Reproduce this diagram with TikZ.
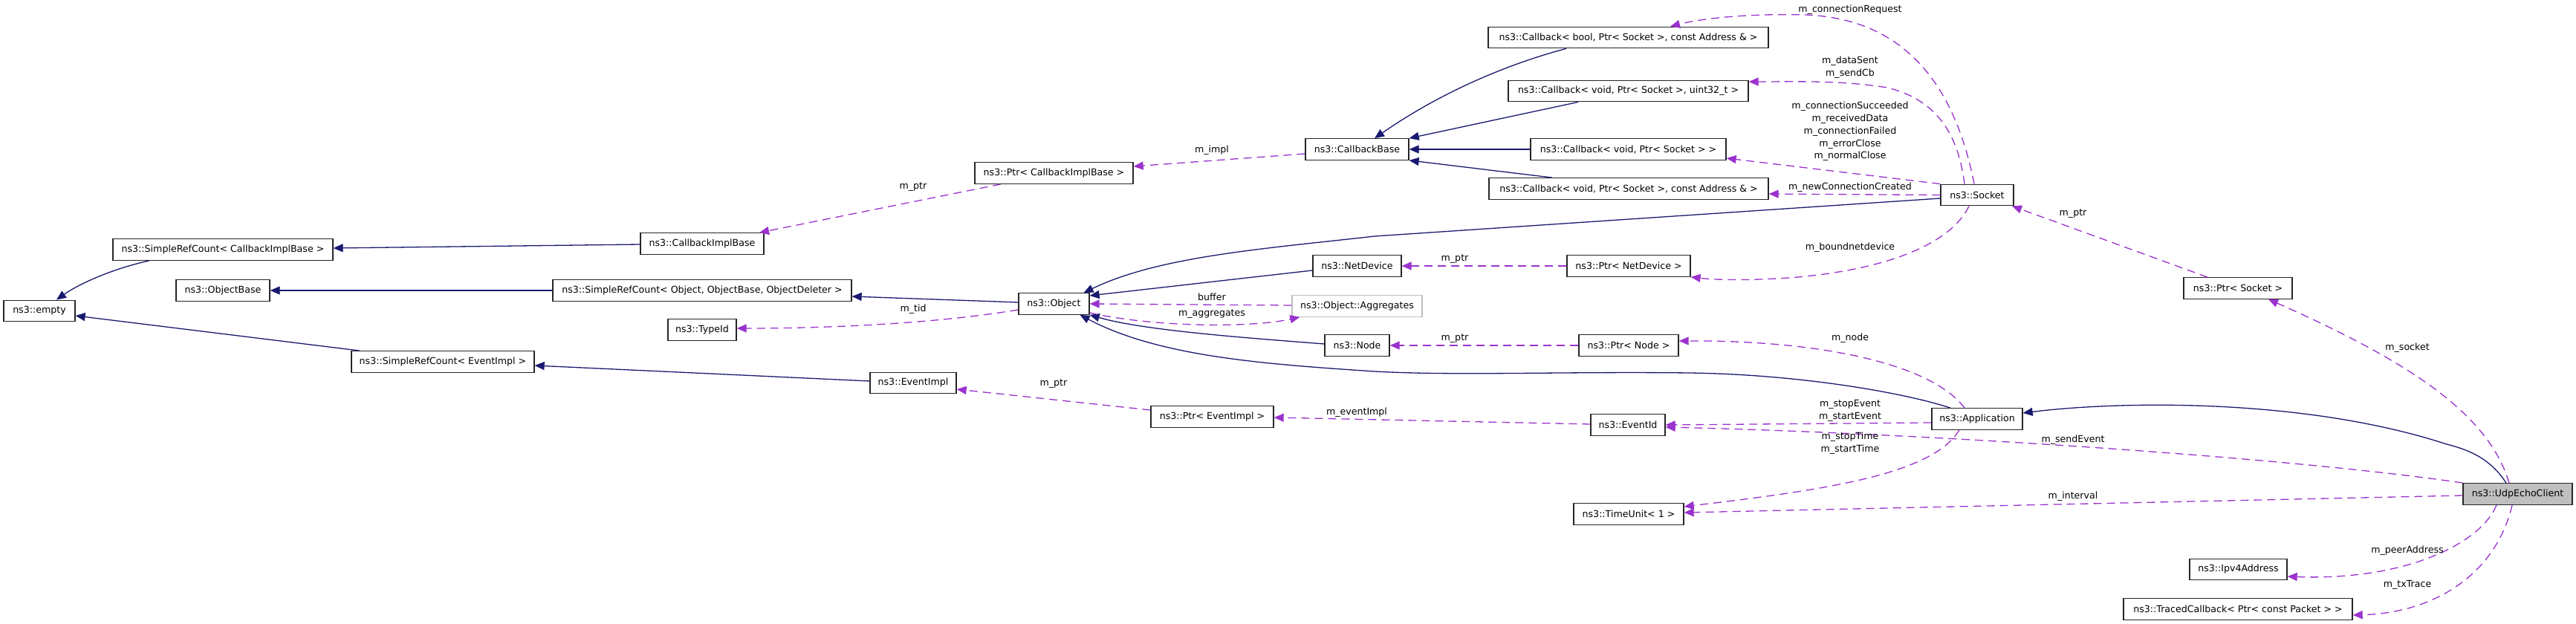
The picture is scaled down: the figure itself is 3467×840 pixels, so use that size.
\documentclass[tikz,border=0pt]{standalone}
\usepackage{fontspec}
\setmainfont{DejaVu Sans}
\usetikzlibrary{arrows.meta}
\definecolor{midblue}{HTML}{191970}
\definecolor{orchid}{HTML}{9A32CD}
\definecolor{grayfill}{HTML}{BFBFBF}
\newcommand{\lblfont}{\fontsize{12.6}{16.8}\selectfont}
\begin{document}
\begin{tikzpicture}[x=1pt,y=-1pt,
  box/.style={draw=black!85, line width=1.3pt, fill=white, minimum height=28.5pt, inner sep=0pt, font=\lblfont},
  ghost/.style={box, draw=grayfill},
  focus/.style={box, fill=grayfill},
  lab/.style={font=\lblfont, inner sep=0pt, align=center},
  inh/.style={draw=midblue, line width=1.3pt, -{Triangle[length=13pt,width=11pt]}},
  use/.style={draw=orchid, line width=1.3pt, dash pattern=on 11pt off 7pt, -{Triangle[length=13pt,width=11pt]}}]
\useasboundingbox (0,0) rectangle (3467,840);
% nodes
\node[box, minimum width=96pt] (empty) at (53,418.5) {ns3::empty};
\node[box, minimum width=296pt] (srcCB) at (300,336) {ns3::SimpleRefCount< CallbackImplBase >};
\node[box, minimum width=126pt] (objbase) at (300,391) {ns3::ObjectBase};
\node[box, minimum width=246pt] (srcEv) at (596,487) {ns3::SimpleRefCount< EventImpl >};
\node[box, minimum width=166pt] (cbImpl) at (945,328) {ns3::CallbackImplBase};
\node[box, minimum width=402pt] (srcObj) at (945,391) {ns3::SimpleRefCount< Object, ObjectBase, ObjectDeleter >};
\node[box, minimum width=92pt] (typeid) at (945,444) {ns3::TypeId};
\node[box, minimum width=213pt] (ptrCB) at (1418.5,233) {ns3::Ptr< CallbackImplBase >};
\node[box, minimum width=95pt] (object) at (1418.5,409) {ns3::Object};
\node[box, minimum width=116pt] (eventimpl) at (1229,515.5) {ns3::EventImpl};
\node[box, minimum width=165pt] (ptrEv) at (1631.5,561) {ns3::Ptr< EventImpl >};
\node[box, minimum width=139pt] (cbBase) at (1826.5,201) {ns3::CallbackBase};
\node[box, minimum width=119pt] (netdev) at (1826.5,358) {ns3::NetDevice};
\node[ghost, minimum width=175pt] (aggr) at (1826.5,412) {ns3::Object::Aggregates};
\node[box, minimum width=87pt] (node) at (1826.5,465) {ns3::Node};
\node[box, minimum width=377pt] (cbBool) at (2191.5,50.5) {ns3::Callback< bool, Ptr< Socket >, const Address \& >};
\node[box, minimum width=323pt] (cbU32) at (2191.5,122.5) {ns3::Callback< void, Ptr< Socket >, uint32\_t >};
\node[box, minimum width=263pt] (cbVoid) at (2191.5,201) {ns3::Callback< void, Ptr< Socket > >};
\node[box, minimum width=376pt] (cbAddr) at (2192,254) {ns3::Callback< void, Ptr< Socket >, const Address \& >};
\node[box, minimum width=166pt] (ptrND) at (2192,358) {ns3::Ptr< NetDevice >};
\node[box, minimum width=134pt] (ptrNode) at (2192,465) {ns3::Ptr< Node >};
\node[box, minimum width=100pt] (eventid) at (2191,572) {ns3::EventId};
\node[box, minimum width=148pt] (timeunit) at (2192,692) {ns3::TimeUnit< 1 >};
\node[box, minimum width=98pt] (socket) at (2661,262.5) {ns3::Socket};
\node[box, minimum width=122pt] (app) at (2661,564) {ns3::Application};
\node[box, minimum width=146pt] (ptrSock) at (3012,388) {ns3::Ptr< Socket >};
\node[focus, minimum width=147pt] (udp) at (3388.5,665) {ns3::UdpEchoClient};
\node[box, minimum width=131pt] (ipv4) at (3012.5,766.5) {ns3::Ipv4Address};
\node[box, minimum width=308pt] (traced) at (3012,820) {ns3::TracedCallback< Ptr< const Packet > >};
% inheritance
\draw[inh] ([xshift=-99pt]srcCB.south) .. controls (150,362) and (105,383) .. ([xshift=23pt]empty.north);
\draw[inh] ([xshift=-112pt]srcEv.north) -- ([yshift=-6.5pt]empty.east);
\draw[inh] ([yshift=-1pt]cbImpl.west) -- ([yshift=2pt]srcCB.east);
\draw[inh] (srcObj.west) -- (objbase.east);
\draw[inh] ([yshift=2pt]object.west) -- ([yshift=-8pt]srcObj.east);
\draw[inh] ([yshift=2.5pt]eventimpl.west) -- ([yshift=-5pt]srcEv.east);
\draw[inh] ([yshift=-4.5pt]socket.west) -- (1850,318) .. controls (1700,335) and (1560,345) .. ([xshift=40pt]object.north);
\draw[inh] ([yshift=-6pt]netdev.west) -- ([yshift=11pt]object.east);
\draw[inh] ([yshift=2pt]node.west) .. controls (1680,455) and (1540,445) .. (object.south east);
\draw[inh] ([xshift=-36pt]app.north) .. controls (2560,528) and (2420,504) .. (2274,502) .. controls (2100,500) and (1960,506) .. (1850,500) .. controls (1700,490) and (1560,480) .. ([xshift=35pt]object.south);
\draw[inh] ([xshift=-83.5pt]cbBool.south) .. controls (2060,78) and (1960,110) .. ([xshift=23.5pt]cbBase.north);
\draw[inh] ([xshift=-67.5pt]cbU32.south) -- (cbBase.north east);
\draw[inh] (cbVoid.west) -- (cbBase.east);
\draw[inh] ([xshift=-103pt]cbAddr.north) -- (cbBase.south east);
\draw[inh] ([xshift=-15.5pt]udp.north) .. controls (3350,615) and (3320,605) .. (3293,598) .. controls (3100,535) and (2850,540) .. ([yshift=8pt]app.east);
% usage
\draw[use] ([xshift=-71.5pt]ptrCB.south) -- ([xshift=77pt]cbImpl.north);
\draw[use] ([yshift=-6pt]cbBase.west) -- ([yshift=9pt]ptrCB.east);
\draw[use] ([yshift=-8pt]object.west) .. controls (1250,437) and (1100,442) .. ([yshift=2pt]typeid.east);
\draw[use] ([yshift=1pt]aggr.west) -- (object.east);
\draw[use] ([yshift=-12pt]object.east) .. controls (1550,440) and (1680,442) .. ([xshift=11pt]aggr.south west);
\draw[use] (ptrND.west) -- (netdev.east);
\draw[use] (ptrNode.west) -- (node.east);
\draw[use] ([yshift=9pt]ptrEv.west) -- ([yshift=-8.5pt]eventimpl.east);
\draw[use] ([yshift=1pt]eventid.west) -- ([yshift=-1pt]ptrEv.east);
\draw[use] ([xshift=-4pt]socket.north) .. controls (2630,110) and (2560,25) .. (2430,20) .. controls (2350,18) and (2290,25) .. ([xshift=56.5pt]cbBool.north);
\draw[use] ([xshift=-17pt]socket.north) .. controls (2636,185) and (2610,135) .. (2540,118) .. controls (2480,108) and (2420,110) .. ([yshift=12.5pt]cbU32.east);
\draw[use] (socket.north west) -- ([yshift=-12pt]cbVoid.east);
\draw[use] (socket.west) -- ([yshift=-7pt]cbAddr.east);
\draw[use] ([xshift=-11pt]socket.south) .. controls (2630,320) and (2560,360) .. (2420,373) .. controls (2360,378) and (2310,377) .. (ptrND.south east);
\draw[use] ([xshift=-41pt]ptrSock.north) -- ([xshift=47pt]socket.south);
\draw[use] ([xshift=-11.5pt]udp.north) .. controls (3350,560) and (3250,490) .. ([xshift=41pt]ptrSock.south);
\draw[use] ([xshift=-17pt]app.north) .. controls (2600,490) and (2450,458) .. ([yshift=6pt]ptrNode.east);
\draw[use] ([yshift=-5pt]app.west) -- (eventid.east);
\draw[use] ([xshift=-24pt]app.south) .. controls (2600,640) and (2450,660) .. ([yshift=10pt]timeunit.east);
\draw[use] ([yshift=15pt]udp.west) .. controls (3050,612) and (2550,582) .. ([yshift=-3pt]eventid.east);
\draw[use] ([yshift=-2pt]udp.west) -- ([yshift=2pt]timeunit.east);
\draw[use] ([xshift=-28.5pt]udp.south) .. controls (3340,730) and (3240,782) .. ([yshift=-9.5pt]ipv4.east);
\draw[use] ([xshift=-7.5pt]udp.south) .. controls (3360,770) and (3280,825) .. ([yshift=-8pt]traced.east);
% labels
\node[lab] (l1) at (1229,252) {m\_ptr};
\node[lab] (l2) at (1631,202) {m\_impl};
\node[lab] (l3) at (1229,416) {m\_tid};
\node[lab] (l4) at (1631,400) {buffer};
\node[lab] (l5) at (1631,423) {m\_aggregates};
\node[lab] (l6) at (1418,517) {m\_ptr};
\node[lab] (l7) at (1958,349) {m\_ptr};
\node[lab] (l8) at (1958,456) {m\_ptr};
\node[lab] (l9) at (1826,555) {m\_eventImpl};
\node[lab] (l10) at (2490,13) {m\_connectionRequest};
\node[lab] (l11) at (2490,91) {m\_dataSent\\m\_sendCb};
\node[lab] (l12) at (2490,177) {m\_connectionSucceeded\\m\_receivedData\\m\_connectionFailed\\m\_errorClose\\m\_normalClose};
\node[lab] (l13) at (2490,252) {m\_newConnectionCreated};
\node[lab] (l14) at (2490,333) {m\_boundnetdevice};
\node[lab] (l15) at (2490,455) {m\_node};
\node[lab] (l16) at (2490,552.5) {m\_stopEvent\\m\_startEvent};
\node[lab] (l17) at (2490,596.5) {m\_stopTime\\m\_startTime};
\node[lab] (l18) at (2790,288) {m\_ptr};
\node[lab] (l19) at (2790,592) {m\_sendEvent};
\node[lab] (l20) at (2790,668) {m\_interval};
\node[lab] (l21) at (3240,468) {m\_socket};
\node[lab] (l22) at (3240,741) {m\_peerAddress};
\node[lab] (l23) at (3240,787) {m\_txTrace};
\end{tikzpicture}
\end{document}
